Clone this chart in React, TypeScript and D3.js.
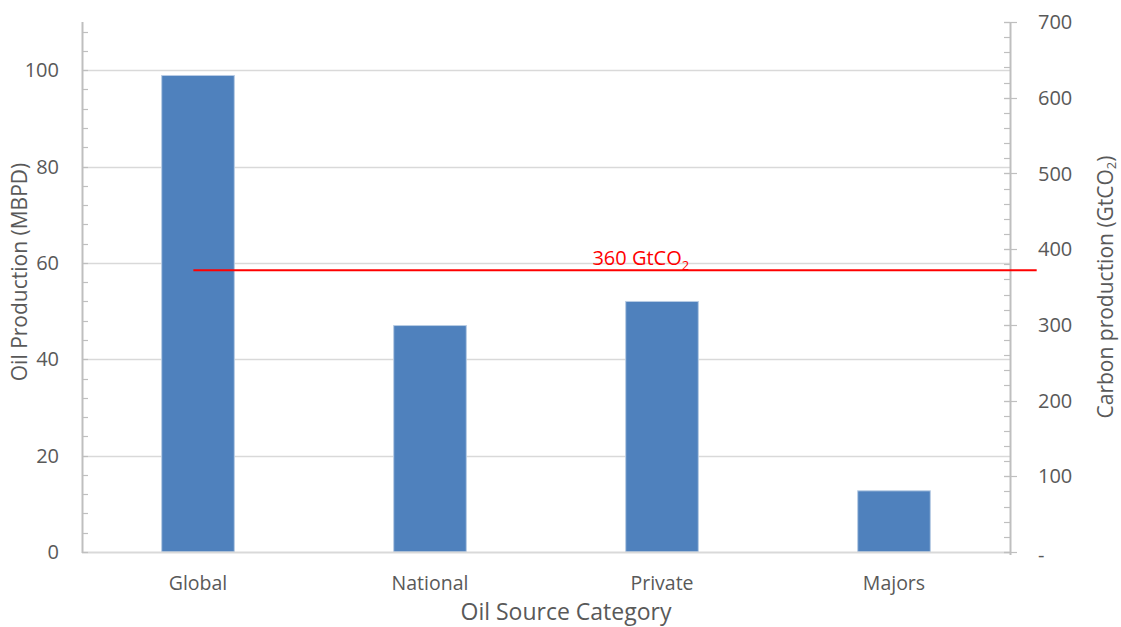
import React from "react";
import * as d3 from "d3";

const categories = ["Global", "National", "Private", "Majors"];
const oilProduction = [98.9, 47.0, 52.0, 12.7];
const leftTicks = [0, 20, 40, 60, 80, 100];
const leftMinorStep = 4;
const leftMax = 110;
const rightTicks = [0, 100, 200, 300, 400, 500, 600, 700];
const rightTickLabels = ["-", "100", "200", "300", "400", "500", "600", "700"];
const rightMinorStep = 20;
const rightMax = 700;
const carbonLineValue = 372;
const carbonLineExtent = [-0.02, 3.615]; // in category-index units
const carbonLabelPos = 1.70;
const carbonLabelMain = "360 GtCO";
const carbonLabelSub = "2";

const W = 1121;
const H = 627;
const M = { left: 82, right: 1010, top: 22, bottom: 552 };
const FONT = "'Open Sans', sans-serif";
const TXT = "#595959";

export default function App() {
  const x = d3.scaleBand<string>().domain(categories).range([M.left, M.right]).paddingInner(0).paddingOuter(0);
  const bw = x.bandwidth();
  const barW = bw * 0.313;
  const xIdx = d3.scaleLinear().domain([0, categories.length - 1]).range([M.left + bw / 2, M.right - bw / 2]);
  const yL = d3.scaleLinear().domain([0, leftMax]).range([M.bottom, M.top]);
  const yR = d3.scaleLinear().domain([0, rightMax]).range([M.bottom, M.top]);

  const leftMinor = d3.range(0, leftMax + 0.001, leftMinorStep);
  const rightMinor = d3.range(0, rightMax + 0.001, rightMinorStep);

  return (
    <svg width={W} height={H} style={{ position: "absolute", left: 0, top: 0, background: "#fff" }} fontFamily={FONT}>
      {/* gridlines */}
      {leftTicks.filter((t) => t > 0).map((t) => (
        <line key={"g" + t} x1={M.left} x2={M.right} y1={Math.round(yL(t)) + 0.5} y2={Math.round(yL(t)) + 0.5} stroke="#d9d9d9" strokeWidth={1.5} />
      ))}
      {/* bars */}
      {categories.map((c, i) => (
        <rect
          key={c}
          x={(x(c) as number) + bw / 2 - barW / 2}
          y={yL(oilProduction[i])}
          width={barW}
          height={yL(0) - yL(oilProduction[i])}
          fill="#4f81bd"
          stroke="#b8cce4"
          strokeWidth={1}
        />
      ))}
      {/* bottom axis */}
      <line x1={M.left} x2={M.right} y1={M.bottom + 0.5} y2={M.bottom + 0.5} stroke="#d9d9d9" strokeWidth={2} />
      {/* left axis */}
      <line x1={M.left + 0.5} x2={M.left + 0.5} y1={M.top} y2={M.bottom + 1} stroke="#bfbfbf" strokeWidth={2} />
      {leftMinor.map((t) => (
        <line key={"lm" + t} x1={M.left} x2={M.left + 6} y1={Math.round(yL(t)) + 0.5} y2={Math.round(yL(t)) + 0.5} stroke="#bfbfbf" strokeWidth={1.2} />
      ))}
      {leftTicks.map((t) => (
        <text key={"lt" + t} x={M.left - 23} y={yL(t)} dy="0.36em" textAnchor="end" fontSize={20} fill={TXT}>
          {t}
        </text>
      ))}
      {/* right axis */}
      <line x1={M.right + 0.5} x2={M.right + 0.5} y1={M.top} y2={M.bottom + 3} stroke="#bfbfbf" strokeWidth={2} />
      {rightMinor.map((t) => (
        <line key={"rm" + t} x1={M.right - 6} x2={M.right} y1={Math.round(yR(t)) + 0.5} y2={Math.round(yR(t)) + 0.5} stroke="#bfbfbf" strokeWidth={1.2} />
      ))}
      {rightTicks.map((t) => (
        <line key={"rM" + t} x1={M.right - 6} x2={M.right + 7} y1={Math.round(yR(t)) + 0.5} y2={Math.round(yR(t)) + 0.5} stroke="#bfbfbf" strokeWidth={1.2} />
      ))}
      {rightTicks.map((t, i) => (
        <text key={"rt" + t} x={M.right + 28} y={yR(t)} dy={t === 0 ? "0.5em" : "0.36em"} textAnchor="start" fontSize={20} fill={TXT}>
          {rightTickLabels[i]}
        </text>
      ))}
      {/* category labels */}
      {categories.map((c) => (
        <text key={"c" + c} x={(x(c) as number) + bw / 2} y={590} textAnchor="middle" fontSize={19.5} fill={TXT}>
          {c}
        </text>
      ))}
      {/* axis titles */}
      <text x={566} y={620} textAnchor="middle" fontSize={23} fill={TXT}>
        Oil Source Category
      </text>
      <text transform={`translate(27, ${272}) rotate(-90)`} textAnchor="middle" fontSize={21} fill={TXT}>
        Oil Production (MBPD)
      </text>
      <text transform={`translate(1113, ${287}) rotate(-90)`} textAnchor="middle" fontSize={21} fill={TXT}>
        Carbon production (GtCO<tspan fontSize={13} dy={3}>2</tspan>
        <tspan dy={-3}>)</tspan>
      </text>
      {/* carbon budget line */}
      <line
        x1={xIdx(carbonLineExtent[0])}
        x2={xIdx(carbonLineExtent[1])}
        y1={yR(carbonLineValue)}
        y2={yR(carbonLineValue)}
        stroke="#ff0000"
        strokeWidth={2}
      />
      <text x={xIdx(carbonLabelPos)} y={265} fontSize={20} fill="#ff0000">
        {carbonLabelMain}
        <tspan fontSize={13} dy={5}>{carbonLabelSub}</tspan>
      </text>
    </svg>
  );
}
